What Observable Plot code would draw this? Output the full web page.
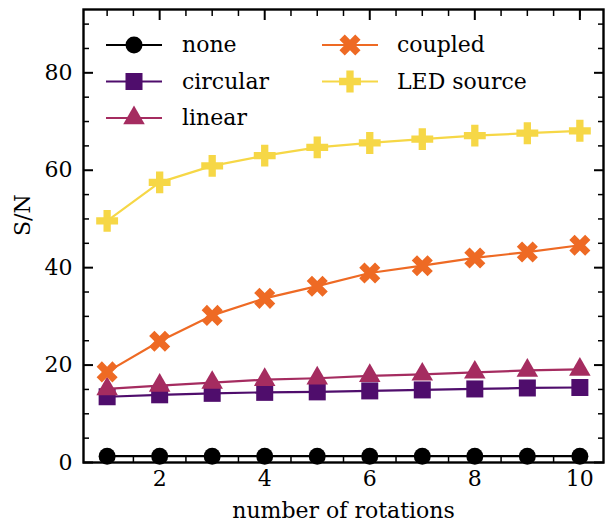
<!DOCTYPE html>
<html><head><meta charset="utf-8">
<script src="https://cdn.jsdelivr.net/npm/d3@7"></script>
<script src="https://cdn.jsdelivr.net/npm/@observablehq/plot@0.6"></script>
<style>
body{margin:0;background:#fff;}
#chart{position:relative;width:605px;height:525px;}
#legend{position:absolute;left:0;top:0;pointer-events:none;}
</style></head><body><div id="chart"></div>
<script>
const rotations = [1,2,3,4,5,6,7,8,9,10];
const seriesNames = ["none","circular","linear","coupled","LED source"];
const none = [1.3,1.3,1.3,1.3,1.3,1.3,1.3,1.3,1.3,1.3];
const circular = [13.5,13.9,14.2,14.4,14.5,14.7,14.9,15.1,15.3,15.4];
const linear = [15.1,15.8,16.4,17.0,17.3,17.8,18.1,18.5,18.9,19.1];
const coupled = [18.6,24.9,30.2,33.7,36.2,38.9,40.4,42.0,43.2,44.6];
const ledSource = [49.6,57.5,60.9,63.0,64.7,65.6,66.4,67.1,67.6,68.1];
const xTicks = [2,4,6,8,10];
const xMinor = [1,1.5,2.5,3,3.5,4.5,5,5.5,6.5,7,7.5,8.5,9,9.5,10];
const yTicks = [0,20,40,60,80];
const yMinor = [5,10,15,25,30,35,45,50,55,65,70,75,85,90];
const colors = ["#000000","#4f0d6c","#a52c60","#ee6a24","#f6d746"];
const symbols = ["circle","square","triangle","cross","cross"];
const sizes = [8.5,9.6,8,9.4,9.2];
const rotates = [0,0,0,45,0];

const values = [none,circular,linear,coupled,ledSource];
const rows = [];
seriesNames.forEach((s,i)=>rotations.forEach((r,j)=>rows.push({series:s, idx:i, rotation:r, value:values[i][j]})));

const FONT = "'DejaVu Serif', serif";
const marks = [];
seriesNames.forEach((s,i)=>{
  const d = rows.filter(r=>r.series===s);
  marks.push(Plot.line(d,{x:"rotation",y:"value",stroke:colors[i],strokeWidth:2.2}));
  marks.push(Plot.dot(d,{x:"rotation",y:"value",fill:colors[i],symbol:()=>symbols[i],r:sizes[i],rotate:rotates[i],stroke:null}));
});

const plot = Plot.plot({
  width:605, height:525,
  marginLeft:83, marginRight:2, marginTop:9, marginBottom:63,
  style:{fontFamily:FONT, fontSize:"22px", background:"#fff", color:"#000"},
  x:{domain:[0.55,10.45]},
  y:{domain:[0,93]},
  symbol:{type:"identity"},
  marks:[
    ...marks,
    Plot.axisX(xTicks,{anchor:"bottom",tickSize:-10,tickPadding:18,strokeWidth:2,label:null,fontSize:22}),
    Plot.axisX(xTicks,{anchor:"top",tickSize:-10,strokeWidth:2,tickFormat:()=>"",label:null}),
    Plot.axisX(xMinor,{anchor:"bottom",tickSize:-6,strokeWidth:1.5,tickFormat:()=>"",label:null}),
    Plot.axisX(xMinor,{anchor:"top",tickSize:-6,strokeWidth:1.5,tickFormat:()=>"",label:null}),
    Plot.axisY(yTicks,{anchor:"left",tickSize:-10,tickPadding:21,strokeWidth:2,label:null,fontSize:22}),
    Plot.axisY(yTicks,{anchor:"right",tickSize:-10,strokeWidth:2,tickFormat:()=>"",label:null}),
    Plot.axisY(yMinor,{anchor:"left",tickSize:-6,strokeWidth:1.5,tickFormat:()=>"",label:null}),
    Plot.axisY(yMinor,{anchor:"right",tickSize:-6,strokeWidth:1.5,tickFormat:()=>"",label:null}),
    Plot.frame({stroke:"#000",strokeWidth:2.4}),
    Plot.text(["number of rotations"],{frameAnchor:"bottom",dy:48,text:d=>d,fontSize:22,lineAnchor:"middle"}),
    Plot.text(["S/N"],{frameAnchor:"left",dx:-61,text:d=>d,rotate:-90,fontSize:22,lineAnchor:"middle"})
  ]
});
const chart = document.getElementById("chart");
chart.appendChild(plot);

// legend overlay
const leg = d3.select(chart).append("svg").attr("id","legend").attr("width",605).attr("height",525)
  .style("font-family",FONT).style("font-size","22px");
const legendPos = [
  {col:0,row:0},{col:0,row:1},{col:0,row:2},{col:1,row:0},{col:1,row:1}
];
const colX = [{x1:106,x2:162,tx:182},{x1:322,x2:378,tx:397}];
const rowY = [45,81.5,118];
const symMap = {circle:d3.symbolCircle,square:d3.symbolSquare,triangle:d3.symbolTriangle,cross:d3.symbolCross};
seriesNames.forEach((s,i)=>{
  const c = colX[legendPos[i].col], y = rowY[legendPos[i].row];
  const g = leg.append("g");
  g.append("line").attr("x1",c.x1).attr("x2",c.x2).attr("y1",y).attr("y2",y).attr("stroke",colors[i]).attr("stroke-width",2.2);
  g.append("path").attr("d",d3.symbol(symMap[symbols[i]], Math.PI*sizes[i]*sizes[i])())
    .attr("transform",`translate(${(c.x1+c.x2)/2},${y}) rotate(${rotates[i]})`).attr("fill",colors[i]);
  g.append("text").attr("x",c.tx).attr("y",y).attr("dy","0.32em").text(s);
});
</script></body></html>
